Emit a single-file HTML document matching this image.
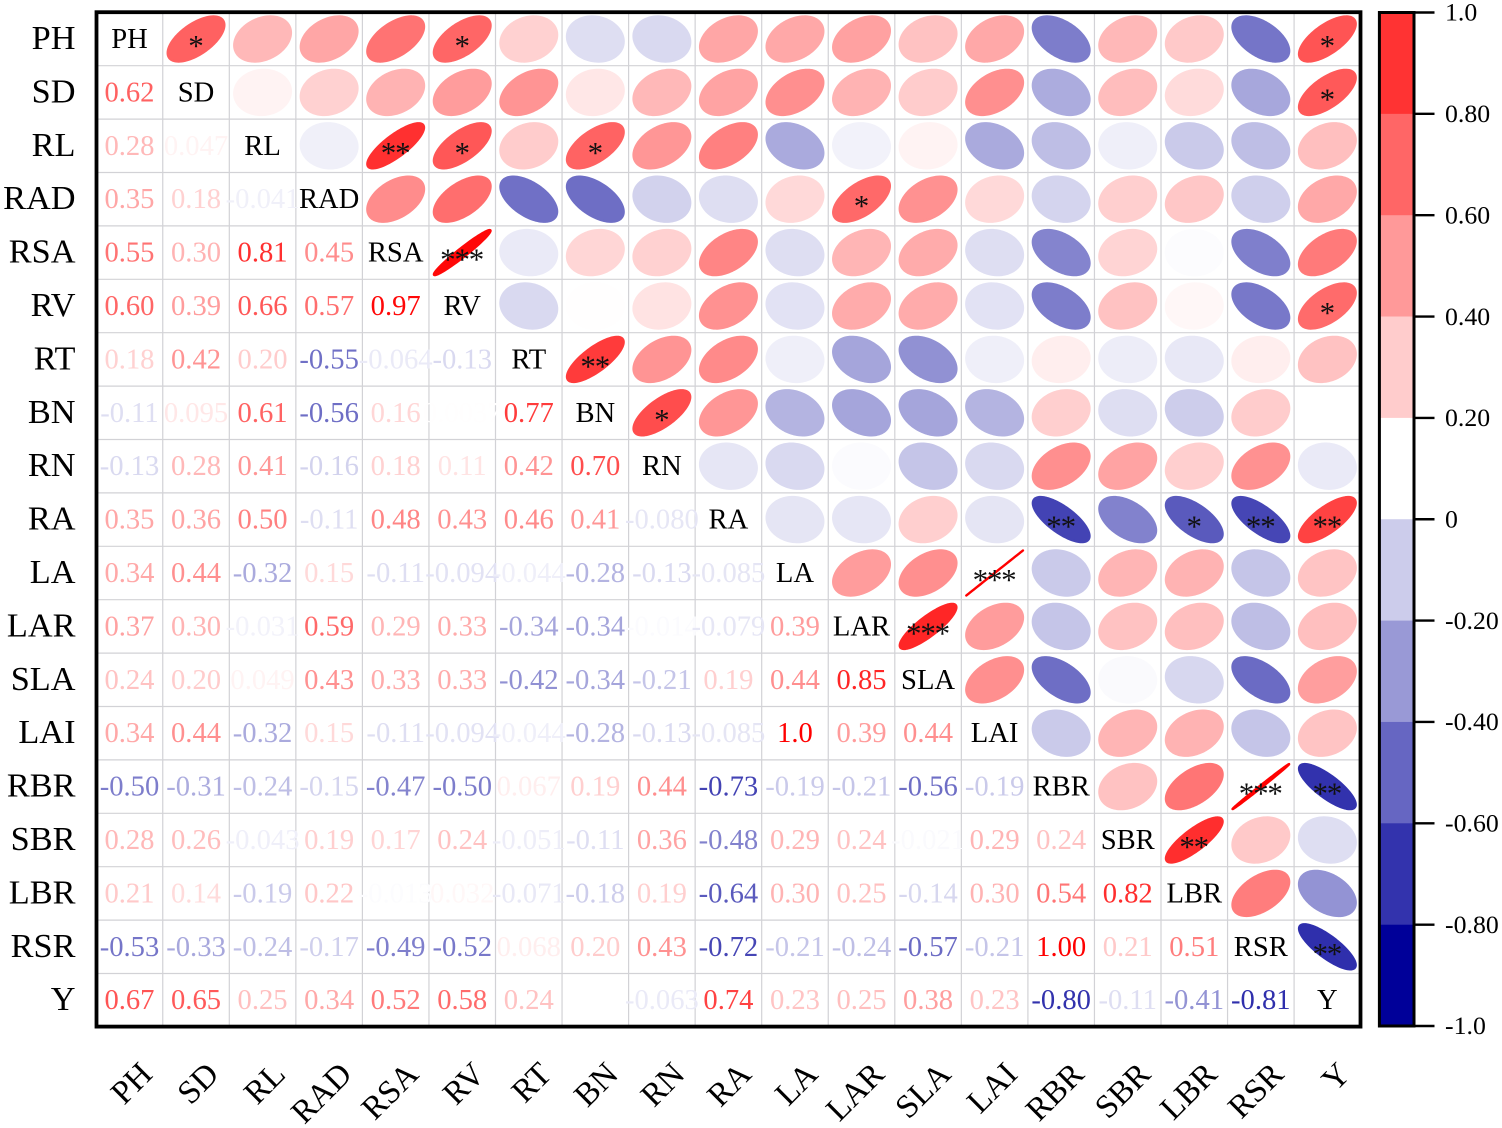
<!DOCTYPE html>
<html>
<head>
<meta charset="utf-8">
<title>Correlation matrix</title>
<style>
html,body{margin:0;padding:0;background:#fff;}
svg{display:block;font-family:"Liberation Serif",serif;}
</style>
</head>
<body>
<svg id="chart" xmlns="http://www.w3.org/2000/svg" width="1502" height="1128" viewBox="0 0 1502 1128"></svg>
<script>
const variables = ["PH","SD","RL","RAD","RSA","RV","RT","BN","RN","RA","LA","LAR","SLA","LAI","RBR","SBR","LBR","RSR","Y"];
const correlationsSD = [0.62];
const correlationsRL = [0.28,0.047];
const correlationsRAD = [0.35,0.18,-0.041];
const correlationsRSA = [0.55,0.30,0.81,0.45];
const correlationsRV = [0.60,0.39,0.66,0.57,0.97];
const correlationsRT = [0.18,0.42,0.20,-0.55,-0.064,-0.13];
const correlationsBN = [-0.11,0.095,0.61,-0.56,0.16,0.0037,0.77];
const correlationsRN = [-0.13,0.28,0.41,-0.16,0.18,0.11,0.42,0.70];
const correlationsRA = [0.35,0.36,0.50,-0.11,0.48,0.43,0.46,0.41,-0.080];
const correlationsLA = [0.34,0.44,-0.32,0.15,-0.11,-0.094,-0.044,-0.28,-0.13,-0.085];
const correlationsLAR = [0.37,0.30,-0.031,0.59,0.29,0.33,-0.34,-0.34,-0.014,-0.079,0.39];
const correlationsSLA = [0.24,0.20,0.049,0.43,0.33,0.33,-0.42,-0.34,-0.21,0.19,0.44,0.85];
const correlationsLAI = [0.34,0.44,-0.32,0.15,-0.11,-0.094,-0.044,-0.28,-0.13,-0.085,1.0,0.39,0.44];
const correlationsRBR = [-0.50,-0.31,-0.24,-0.15,-0.47,-0.50,0.067,0.19,0.44,-0.73,-0.19,-0.21,-0.56,-0.19];
const correlationsSBR = [0.28,0.26,-0.043,0.19,0.17,0.24,-0.051,-0.11,0.36,-0.48,0.29,0.24,-0.021,0.29,0.24];
const correlationsLBR = [0.21,0.14,-0.19,0.22,-0.013,0.032,-0.071,-0.18,0.19,-0.64,0.30,0.25,-0.14,0.30,0.54,0.82];
const correlationsRSR = [-0.53,-0.33,-0.24,-0.17,-0.49,-0.52,0.068,0.20,0.43,-0.72,-0.21,-0.24,-0.57,-0.21,0.998,0.21,0.51];
const correlationsY = [0.67,0.65,0.25,0.34,0.52,0.58,0.24,0,-0.063,0.74,0.23,0.25,0.38,0.23,-0.80,-0.11,-0.41,-0.81];
const significance = [
  ["PH","SD","*"],["PH","RV","*"],["PH","Y","*"],["SD","Y","*"],
  ["RL","RSA","**"],["RL","RV","*"],["RL","BN","*"],["RAD","LAR","*"],
  ["RSA","RV","***"],["RV","Y","*"],["RT","BN","**"],["BN","RN","*"],
  ["RA","RBR","**"],["RA","LBR","*"],["RA","RSR","**"],["RA","Y","**"],
  ["LA","LAI","***"],["LAR","SLA","***"],["RBR","RSR","***"],["RBR","Y","**"],
  ["SBR","LBR","**"],["RSR","Y","**"]
];
const legendTicks = [1,0.8,0.6,0.4,0.2,0,-0.2,-0.4,-0.6,-0.8,-1];
const legendTickLabels = ["1.0","0.80","0.60","0.40","0.20","0","-0.20","-0.40","-0.60","-0.80","-1.0"];

const lowerRows = [[],correlationsSD,correlationsRL,correlationsRAD,correlationsRSA,correlationsRV,correlationsRT,correlationsBN,correlationsRN,correlationsRA,correlationsLA,correlationsLAR,correlationsSLA,correlationsLAI,correlationsRBR,correlationsSBR,correlationsLBR,correlationsRSR,correlationsY];

const NS = "http://www.w3.org/2000/svg";
const svg = document.getElementById("chart");
const plotLeft = 96.2, plotTop = 12.3, cellW = 66.55, cellH = 53.4;
const n = variables.length;
const plotRight = plotLeft + cellW * n, plotBottom = plotTop + cellH * n;
const xEdge = i => plotLeft + cellW * i;
const yEdge = i => plotTop + cellH * i;
const xCenter = i => xEdge(i + 0.5);
const yCenter = i => yEdge(i + 0.5);
const legendY = v => 12.5 + (1 - v) / 2 * 1013.5;

function make(tag, attrs, text) {
  const el = document.createElementNS(NS, tag);
  for (const k in attrs) el.setAttribute(k, attrs[k]);
  if (text !== undefined) el.textContent = text;
  svg.appendChild(el);
  return el;
}
function colorFor(r) {
  let m = Math.min(1, Math.abs(r));
  if (r < 0 && m >= 0.03) m = m + 0.02 * (1 - m);
  const w = Math.round(255 * (1 - m));
  if (r >= 0) return "rgb(255," + w + "," + w + ")";
  return "rgb(" + w + "," + w + "," + Math.round(255 - 102 * m) + ")";
}
function bandColor(level) {
  const m = Math.abs(level);
  const w = Math.round(255 * (1 - m));
  if (level >= 0) return "rgb(255," + w + "," + w + ")";
  return "rgb(" + w + "," + w + "," + Math.round(255 - 102 * m) + ")";
}
function formatValue(v) {
  const a = Math.abs(v);
  if (a >= 0.995 && a < 1) return v.toFixed(2);
  return v.toPrecision(2);
}
function ellipsePath(r, cx, cy) {
  const halfW = 28.3, halfH = 22.5;
  const d = Math.acos(Math.max(-1, Math.min(1, r)));
  let p = "";
  for (let k = 0; k < 96; k++) {
    const t = k / 96 * 2 * Math.PI;
    const x = cx + halfW * Math.cos(t + d / 2);
    const y = cy - halfH * Math.cos(t - d / 2);
    p += (k ? "L" : "M") + x.toFixed(2) + " " + y.toFixed(2);
  }
  return p + "Z";
}

/* grid */
for (let i = 1; i < n; i++) {
  const v = make("line", {x1: xEdge(i), x2: xEdge(i), y1: plotTop, y2: plotBottom, stroke: "#d2d2d6", "stroke-width": 1.2});
  
  
  const h = make("line", {x1: plotLeft, x2: plotRight, y1: yEdge(i), y2: yEdge(i), stroke: "#d2d2d6", "stroke-width": 1.2});
  
  
}

/* cells */
for (let row = 0; row < n; row++) {
  const diag = make("text", {x: xCenter(row), y: yCenter(row) + 9, "text-anchor": "middle", "font-size": 28.6, fill: "#000"}, variables[row]);
  
  
  for (let col = 0; col < row; col++) {
    const r = lowerRows[row][col];
    const label = make("text", {x: xCenter(col), y: yCenter(row) + 9, "text-anchor": "middle", "font-size": 28.6, fill: colorFor(r)}, formatValue(r));
    
    
    const shape = make("path", {d: ellipsePath(r, xCenter(row), yCenter(col)), fill: colorFor(r), stroke: colorFor(r), "stroke-width": 2.4, "stroke-linejoin": "round"});
    
    
  }
}

/* significance stars */
significance.forEach(s => {
  const rowIdx = variables.indexOf(s[0]);
  const colIdx = variables.indexOf(s[1]);
  const star = make("text", {x: xCenter(colIdx) - 0.6, y: yCenter(rowIdx) + 17, "text-anchor": "middle", "font-size": 31, "letter-spacing": -1.2, fill: "#111"}, s[2]);
  
  
});

/* frame */
const frame = make("rect", {x: 96.5, y: 12.2, width: 1264, height: 1014.4, fill: "none", stroke: "#000", "stroke-width": 3.8});



/* axis labels */
variables.forEach((name, i) => {
  const yl = make("text", {x: 75.5, y: yCenter(i) + 10, "text-anchor": "end", "font-size": 34.3, fill: "#000"}, name);
  
  
  const ax = xCenter(i) + 24.5, ay = 1076;
  const xl = make("text", {x: ax, y: ay, "text-anchor": "end", "font-size": 33, fill: "#000", transform: "rotate(-45 " + ax + " " + ay + ")"}, name);
  
  
});

/* legend */
for (let b = 0; b < legendTicks.length - 1; b++) {
  const hi = legendTicks[b], lo = legendTicks[b + 1];
  const level = hi > 0 ? (lo > 0.01 ? lo : 0) : lo;
  const band = make("rect", {x: 1379.5, y: legendY(hi), width: 34.5, height: legendY(lo) - legendY(hi) + 0.3, fill: bandColor(level)});
  
  
}
const legendFrame = make("rect", {x: 1379.4, y: 12.5, width: 34.6, height: 1013.5, fill: "none", stroke: "#000", "stroke-width": 3});


legendTicks.forEach((v, i) => {
  const y = legendY(v);
  const tick = make("line", {x1: 1414, x2: 1434.5, y1: y, y2: y, stroke: "#000", "stroke-width": 2.4});
  
  
  const lab = make("text", {x: 1445, y: y + 8.2, "font-size": 25.8, fill: "#000"}, legendTickLabels[i]);
  
  
});
</script>
</body>
</html>
